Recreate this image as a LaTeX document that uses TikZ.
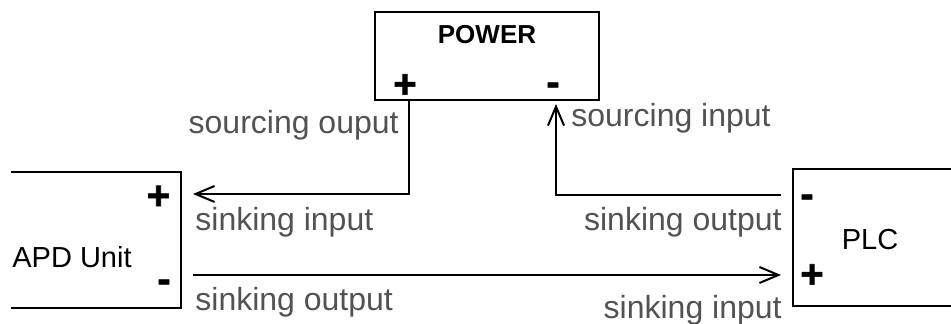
\documentclass[tikz,border=0pt]{standalone}
\usepackage{fontspec}
\setmainfont{Liberation Sans}
\newfontfamily\signfont[FakeBold=1.5]{Liberation Sans Bold}
\usetikzlibrary{arrows.meta,positioning}

\begin{document}
\begin{tikzpicture}[
  x=0.5pt, y=-0.5pt,
  box/.style={draw, line width=1pt, minimum width=112pt, minimum height=44pt, inner sep=0pt},
  sign/.style={font=\fontsize{20}{20}\signfont, inner sep=0pt},
  lbl/.style={font=\fontsize{16}{19}\selectfont, text=black!68, inner sep=0pt},
  unitname/.style={font=\fontsize{14.5}{17}\selectfont, inner sep=0pt},
  wire/.style={line width=1pt},
  arr/.style={wire, -{Straight Barb[length=9.5pt,width=8pt,line width=1pt]}}
]
\useasboundingbox (0,0) rectangle (951,324);

\node[box] (power) at (487,56) {};
\node[font=\fontsize{13}{16}\selectfont\bfseries, inner sep=0pt] (powername) at (487,35) {POWER};
\node[sign] (pplus) at (405,86) {+};
\node[sign] (pminus) at (553,89) {-};

\draw[wire] (11,172) -| (181,308) -- (11,308);
\node[unitname, anchor=west] (apd) at (12,257) {APD Unit};
\node[sign] (aplus) at (158.5,197.5) {+};
\node[sign] (aminus) at (164,286) {-};

\draw[wire] (951,169) -| (793,306) -- (951,306);
\node[unitname] (plc) at (870,240) {PLC};
\node[sign] (lminus) at (807,201) {-};
\node[sign] (lplus) at (812,276) {+};

\coordinate (pwout) at (409,100);
\coordinate (pwin) at (556,104);
\coordinate (apdin) at (193,194);
\coordinate (apdout) at (193,275);
\coordinate (plcout) at (781,195);
\coordinate (plcin) at (781,275);

\draw[arr] (pwout) |- (apdin);
\draw[arr] (plcout) -| (pwin);
\draw[arr] (apdout) -- (plcin);

\node[lbl, anchor=east] (l1) at (399,125) {sourcing ouput};
\node[lbl, anchor=west] (l2) at (571,118) {sourcing input};
\node[lbl, anchor=west] (l3) at (195,222) {sinking input};
\node[lbl, anchor=east] (l4) at (782,222) {sinking output};
\node[lbl, anchor=west] (l5) at (195,302) {sinking output};
\node[lbl, anchor=east] (l6) at (782,310) {sinking input};

\end{tikzpicture}
\end{document}
